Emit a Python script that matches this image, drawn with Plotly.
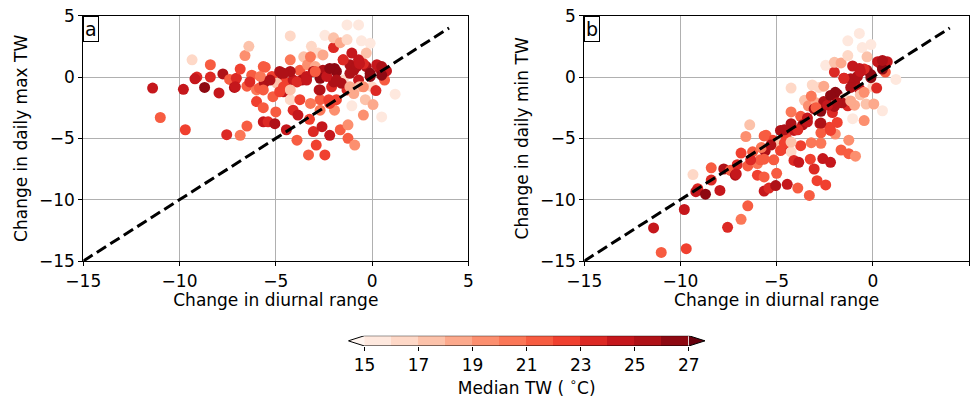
import plotly.graph_objects as go

# ---------------- data ----------------
dtr_change = [
    -11.4, -11.0, -9.8, -9.7, -9.35, -9.1, -9.2, -8.7, -8.4, -8.4,
    -7.95, -7.75, -7.55, -7.4, -7.15, -7.05, -6.85, -6.85, -6.6, -6.4,
    -6.5, -6.25, -6.5, -6.0, -5.85, -6.0, -5.65, -5.55, -5.6, -5.65,
    -5.4, -5.2, -5.05, -5.0, -5.15, -4.8, -4.65, -4.5, -4.6, -4.45,
    -4.25, -4.25, -4.25, -4.1, -3.9, -3.85, -3.75, -3.65, -3.55, -3.35,
    -3.25, -3.15, -3.05, -3.3, -2.9, -2.95, -2.8, -2.75, -2.7, -2.6,
    -2.45, -2.45, -2.55, -2.2, -2.25, -2.0, -2.0, -2.1, -1.95, -1.85,
    -1.65, -1.65, -1.5, -1.5, -1.3, -1.25, -1.25, -1.15, -1.05, -1.05,
    -0.9, -0.7, -1.3, -0.95, -0.7, -0.55, -0.45, -0.35, -0.3, -0.1,
    -0.1, 0.0, 0.05, 0.2, 0.4, 0.5, 0.65, 0.75, 1.2, 0.25,
    -0.45, -0.8, -0.65, -2.0, -3.05, -3.4, -4.1, -4.25, -2.7, -2.35,
    -1.95, -1.3, -0.95, -0.3, -1.85, -3.75, -3.2, -2.7, -4.95, -4.6,
    -5.8, -1.6, -0.7, 0.5,
    -7.1, -6.35, -5.65, -5.3, -4.6, -3.9, -3.4, -2.95, -2.7, -2.2,
    -1.85, -1.5, -1.15, -0.65, -0.1, 0.5, -3.2, -2.55, -4.25, -5.65,
    -4.8, -1.15, -0.45, -2.2,
]
max_tw_change = [
    -0.9, -3.3, -1.0, -4.3, 1.4, 0.0, -0.15, -0.85, 1.0, 0.0,
    -1.3, 0.25, -4.7, -0.2, -0.85, -0.1, 0.65, -4.75, 1.75, 2.5,
    -4.0, 0.15, -0.75, -1.05, -0.9, -2.0, -2.5, 0.8, -0.45, -3.65,
    -3.65, 0.05, -3.8, -2.85, -1.6, 0.45, 0.15, -0.45, -1.2, -4.3,
    1.4, 3.35, -1.85, -2.7, -5.15, -3.1, 0.55, -0.25, 1.65, 1.0,
    -3.45, 2.5, -4.45, -6.35, -5.55, 0.85, 1.95, -1.05, -1.85, -4.05,
    -6.35, 3.4, 0.55, -4.75, -1.85, 2.4, 3.2, -0.8, -2.7, 0.45,
    -4.3, 2.8, 1.4, -0.25, 3.05, -3.9, -5.0, 1.0, 1.95, -2.35,
    -5.55, 4.25, 4.25, 0.55, -0.25, 2.95, -3.1, -1.85, 0.85, 2.75,
    0.3, -0.8, -2.25, -1.1, 0.7, -3.25, -0.25, 0.5, -1.4, 1.0,
    1.1, 0.85, -0.8, -0.4, 0.45, 0.05, -0.25, 0.45, -0.1, 0.05,
    0.7, -1.05, -1.35, 1.95, -1.85, -1.85, -2.15, -2.7, -0.5, -0.8,
    0.05, -0.5, 1.4, 0.15,
    -0.8, -0.4, 0.85, -0.25, 0.3, -0.4, -0.25, 0.45, -1.05, 0.7,
    -0.25, 1.4, 0.3, 1.1, 0.05, 0.85, 1.65, 1.8, -1.05, -1.05,
    -1.2, -0.8, -0.8, -2.15,
]
min_tw_change = [
    -12.3, -14.3, -10.8, -14.0, -7.95, -9.1, -9.35, -9.55, -7.4, -8.4,
    -9.25, -7.5, -12.25, -7.6, -8.0, -7.15, -6.2, -11.6, -4.85, -3.9,
    -10.5, -6.1, -7.25, -7.05, -6.75, -8.0, -8.15, -4.75, -6.05, -9.3,
    -9.05, -5.15, -8.85, -7.85, -6.75, -4.35, -4.5, -4.95, -5.8, -8.75,
    -2.85, -0.9, -6.1, -6.8, -9.05, -6.95, -3.2, -3.9, -1.9, -2.35,
    -6.7, -0.65, -7.5, -9.65, -8.45, -2.1, -0.85, -3.8, -4.55, -6.65,
    -8.8, 0.95, -2.0, -6.95, -4.1, 0.4, 1.2, -2.9, -4.65, -1.4,
    -5.95, 1.15, -0.1, -1.75, 1.75, -5.15, -6.25, -0.15, 0.9, -3.4,
    -6.45, 3.55, 2.95, -0.4, -0.95, 2.4, -3.55, -2.2, 0.55, 2.65,
    0.2, -0.8, -2.2, -0.9, 1.1, -2.75, 0.4, 1.25, -0.2, 1.25,
    0.65, 0.05, -1.45, -2.4, -2.6, -3.35, -4.35, -3.8, -2.8, -2.3,
    -1.25, -2.35, -2.3, 1.65, -3.7, -5.6, -5.35, -5.4, -5.45, -5.4,
    -5.75, -2.1, 0.7, 0.65,
    -7.9, -6.75, -4.8, -5.55, -4.3, -4.3, -3.65, -2.5, -3.75, -1.5,
    -2.1, -0.1, -0.85, 0.45, -0.05, 1.35, -1.55, -0.75, -5.3, -6.7,
    -6.0, -1.95, -1.25, -4.35,
]
median_tw = [
    24.5, 21.5, 24.5, 22.5, 16.5, 23.5, 24.5, 26.5, 21.5, 23.5,
    24.5, 25.5, 23.5, 21.5, 25.5, 23.5, 22.5, 20.5, 19.5, 17.5,
    21.5, 21.5, 21.5, 20.5, 21.5, 22.5, 21.5, 21.5, 25.5, 24.5,
    23.5, 22.5, 25.5, 21.5, 21.5, 25.5, 25.5, 22.5, 24.5, 24.5,
    20.5, 16.5, 16.5, 23.5, 21.5, 24.5, 21.5, 25.5, 17.5, 19.5,
    22.5, 16.5, 23.5, 21.5, 22.5, 18.5, 16.5, 24.5, 21.5, 24.5,
    22.5, 15.5, 25.5, 24.5, 22.5, 23.5, 17.5, 23.5, 19.5, 26.5,
    21.5, 18.5, 23.5, 16.5, 16.5, 19.5, 21.5, 25.5, 24.5, 15.5,
    19.5, 15.5, 15.5, 25.5, 24.5, 15.5, 19.5, 17.5, 25.5, 15.5,
    26.5, 16.5, 18.5, 23.5, 25.5, 15.5, 21.5, 24.5, 15.5, 24.5,
    23.5, 25.5, 17.5, 25.5, 25.5, 24.5, 24.5, 25.5, 26.5, 24.5,
    26.5, 23.5, 18.5, 17.5, 22.5, 22.5, 20.5, 20.5, 17.5, 22.5,
    20.5, 25.5, 24.5, 26.5,
    24.5, 23.5, 21.5, 25.5, 25.5, 23.5, 24.5, 21.5, 25.5, 26.5,
    25.5, 23.5, 25.5, 24.5, 26.5, 25.5, 20.5, 18.5, 17.5, 21.5,
    22.5, 18.5, 19.5, 22.5,
]
axis_ticks = [-15, -10, -5, 0, 5]
cbar_bounds = [15, 16, 17, 18, 19, 20, 21, 22, 23, 24, 25, 26, 27]
cbar_ticks = [15, 17, 19, 21, 23, 25, 27]
one_to_one = [-15, 4]

# ---------------- colour map (matplotlib "Reds", discrete, extend both) ----------------
REDS = [(1.0, 0.96078, 0.94118), (0.99608, 0.87843, 0.82353), (0.98824, 0.73333, 0.63137),
        (0.98824, 0.57255, 0.44706), (0.98431, 0.41569, 0.29020), (0.93725, 0.23137, 0.17255),
        (0.79608, 0.09412, 0.11373), (0.64706, 0.05882, 0.08235), (0.40392, 0.0, 0.05098)]


def reds(t):
    t = min(max(t, 0.0), 1.0)
    seg = t * 8
    i = min(int(seg), 7)
    f = seg - i
    c = [REDS[i][k] + (REDS[i + 1][k] - REDS[i][k]) * f for k in range(3)]
    return "rgb(%d,%d,%d)" % tuple(round(v * 255) for v in c)


n_bins = len(cbar_bounds) - 1
n_regions = n_bins + 2


def region_color(region):
    idx = int(region * 255 / (n_regions - 1))
    return reds(idx / 255)


def value_color(v):
    if v < cbar_bounds[0]:
        return region_color(0)
    if v >= cbar_bounds[-1]:
        return region_color(n_regions - 1)
    for k in range(n_bins):
        if cbar_bounds[k] <= v < cbar_bounds[k + 1]:
            return region_color(k + 1)


point_colors = [value_color(v) for v in median_tw]
bin_colors = [region_color(k + 1) for k in range(n_bins)]
bin_centers = [(cbar_bounds[k] + cbar_bounds[k + 1]) / 2 for k in range(n_bins)]

# ---------------- figure ----------------
W, H = 972, 401
FONT = "DejaVu Sans"
FS = 17


def px_x(p):
    return p / W


def px_y(p):
    return 1 - p / H


fig = go.Figure()

for xa, ya, yvals in (("x", "y", max_tw_change), ("x2", "y2", min_tw_change)):
    fig.add_trace(go.Scatter(
        x=dtr_change, y=yvals, mode="markers", xaxis=xa, yaxis=ya,
        marker=dict(size=11, color=point_colors, line=dict(width=0), opacity=1),
        showlegend=False, hoverinfo="skip"))
    fig.add_trace(go.Scatter(
        x=one_to_one, y=one_to_one, mode="lines", xaxis=xa, yaxis=ya,
        line=dict(color="black", width=3, dash="11px,5px"),
        showlegend=False, hoverinfo="skip"))

# colour bar drawn as bars on its own axis
fig.add_trace(go.Bar(
    x=bin_centers, y=[1] * n_bins, width=[1] * n_bins, base=0,
    marker=dict(color=bin_colors, line=dict(width=0)),
    xaxis="x3", yaxis="y3", showlegend=False, hoverinfo="skip"))

ext = 0.05 * (cbar_bounds[-1] - cbar_bounds[0])
lo, hi = cbar_bounds[0], cbar_bounds[-1]

axis_common = dict(
    range=[-15, 5], tickvals=axis_ticks, ticks="outside", ticklen=4, tickwidth=1,
    tickcolor="black", showgrid=True, gridcolor="#b0b0b0", gridwidth=1,
    zeroline=False, showline=True, linecolor="black", linewidth=1.2, mirror=True,
    tickfont=dict(family=FONT, size=FS, color="black"), automargin=False,
)

ydom = [px_y(261), px_y(15.7)]
fig.update_layout(
    width=W, height=H, margin=dict(l=0, r=0, t=0, b=0),
    paper_bgcolor="white", plot_bgcolor="white",
    font=dict(family=FONT, size=FS, color="black"),
    bargap=0,
    xaxis=dict(axis_common, domain=[px_x(83.3), px_x(468.3)], anchor="y",
               title=dict(text="Change in diurnal range", standoff=4,
                          font=dict(family=FONT, size=FS))),
    yaxis=dict(axis_common, domain=ydom, anchor="x",
               title=dict(text="Change in daily max TW", standoff=6,
                          font=dict(family=FONT, size=FS))),
    xaxis2=dict(axis_common, domain=[px_x(584.3), px_x(969)], anchor="y2",
                title=dict(text="Change in diurnal range", standoff=4,
                           font=dict(family=FONT, size=FS))),
    yaxis2=dict(axis_common, domain=ydom, anchor="x2",
                title=dict(text="Change in daily min TW", standoff=6,
                           font=dict(family=FONT, size=FS))),
    xaxis3=dict(domain=[px_x(348.3), px_x(705)], anchor="y3",
                range=[lo - ext, hi + ext], tickvals=cbar_ticks,
                ticks="outside", ticklen=4, tickcolor="black", showgrid=False,
                zeroline=False, showline=False, automargin=False,
                tickfont=dict(family=FONT, size=FS, color="black"),
                title=dict(text="Median TW ( <sup>∘</sup>C)", standoff=2,
                           font=dict(family=FONT, size=FS))),
    yaxis3=dict(domain=[px_y(346), px_y(335.7)], anchor="x3", range=[0, 1],
                showticklabels=False, ticks="", showgrid=False, zeroline=False,
                showline=False, automargin=False),
)

# extension triangles and outline of the colour bar
fig.add_shape(type="path", xref="x3", yref="y3",
              path=f"M {lo},0 L {lo - ext},0.5 L {lo},1 Z",
              fillcolor=region_color(0), line=dict(width=0))
fig.add_shape(type="path", xref="x3", yref="y3",
              path=f"M {hi},0 L {hi + ext},0.5 L {hi},1 Z",
              fillcolor=region_color(n_regions - 1), line=dict(width=0))
fig.add_shape(type="path", xref="x3", yref="y3",
              path=f"M {lo},0 L {lo - ext},0.5 L {lo},1 L {hi},1 L {hi + ext},0.5 L {hi},0 Z",
              line=dict(color="black", width=1), fillcolor="rgba(0,0,0,0)")

# panel labels
for ref, label in (("x", "a"), ("x2", "b")):
    fig.add_annotation(
        xref=f"{ref} domain", yref=f"{'y' if ref == 'x' else 'y2'} domain",
        x=0, y=1, xanchor="left", yanchor="top", text=label, showarrow=False,
        font=dict(family=FONT, size=19, color="black"),
        bgcolor="white", bordercolor="black", borderwidth=1, borderpad=1)

fig.write_html("out.html")
